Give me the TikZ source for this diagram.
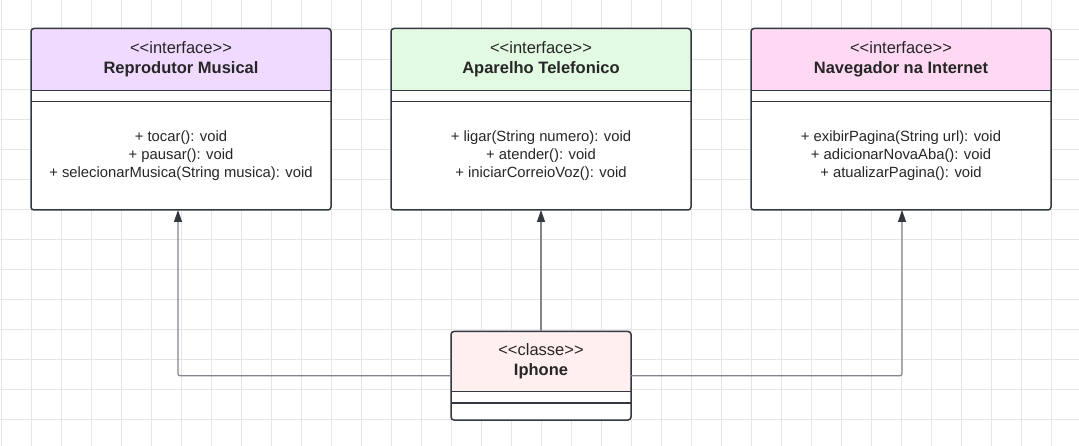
\documentclass[tikz,border=0pt]{standalone}
\usepackage{fontspec}
\setmainfont{Liberation Sans}
\usetikzlibrary{arrows.meta, positioning, fit}
\definecolor{uml_line}{RGB}{51, 56, 64}
\definecolor{uml_conn}{RGB}{128, 133, 140}
\definecolor{uml_grid}{RGB}{230, 230, 230}
\definecolor{uml_purple}{RGB}{240, 218, 255}
\definecolor{uml_green}{RGB}{226, 250, 226}
\definecolor{uml_pink}{RGB}{255, 217, 244}
\definecolor{uml_rose}{RGB}{255, 239, 238}
\newcommand{\stereo}[1]{<\kern0pt<#1>\kern0pt>}

\begin{document}
\begin{tikzpicture}[x=1pt, y=-1pt, text=black!85,
      hdr/.style={inner sep=0pt, outer sep=0pt, align=center,
                  minimum width=300pt, minimum height=62pt,
                  font=\fontsize{16.5}{20}\selectfont},
      cmp/.style={inner sep=0pt, outer sep=0pt,
                  minimum width=300pt, minimum height=11pt},
      ops/.style={inner sep=0pt, outer sep=0pt, align=center,
                  minimum width=300pt, minimum height=108.5pt,
                  font=\fontsize{14.8}{18}\selectfont},
      frame/.style={draw=uml_line, line width=1.5pt, rounded corners=3pt,
                    inner sep=0pt, outer sep=0pt},
      sep/.style={draw=uml_line, line width=1.5pt},
      conn/.style={draw=uml_conn, line width=1.2pt, rounded corners=2pt,
                   -{Triangle[length=12pt, width=8pt, color=uml_line]}},
      gridline/.style={draw=uml_grid, line width=1pt}]
      % Fundo quadriculado
      \fill[white] (0,0) rectangle (1079,446);
      \useasboundingbox (0,0) rectangle (1079,446);
      \foreach \gx in {0,...,35}
        \draw[gridline] (1.7+30*\gx,0) -- (1.7+30*\gx,446);
      \foreach \gy in {1,...,14}
        \draw[gridline] (0,-0.7+30*\gy) -- (1079,-0.7+30*\gy);
      % Reprodutor Musical
      \node[hdr, fill=uml_purple, anchor=north] (rep)
        at (181,28.5) {\stereo{interface}\\\textbf{Reprodutor Musical}};
      \node[cmp, fill=white, below=0pt of rep] (rep-a) {};
      \node[ops, fill=white, below=0pt of rep-a] (rep-o)
        {+ tocar(): void\\+ pausar(): void\\+ selecionarMusica(String musica): void};
      \node[frame, fit=(rep)(rep-o)] (rep-box) {};
      \draw[sep] (rep.south west) -- (rep.south east);
      \draw[sep] (rep-a.south west) -- (rep-a.south east);
      % Aparelho Telefonico
      \node[hdr, fill=uml_green, anchor=north] (apa)
        at (541,28.5) {\stereo{interface}\\\textbf{Aparelho Telefonico}};
      \node[cmp, fill=white, below=0pt of apa] (apa-a) {};
      \node[ops, fill=white, below=0pt of apa-a] (apa-o)
        {+ ligar(String numero): void\\+ atender(): void\\+ iniciarCorreioVoz(): void};
      \node[frame, fit=(apa)(apa-o)] (apa-box) {};
      \draw[sep] (apa.south west) -- (apa.south east);
      \draw[sep] (apa-a.south west) -- (apa-a.south east);
      % Navegador na Internet
      \node[hdr, fill=uml_pink, anchor=north] (nav)
        at (901,28.5) {\stereo{interface}\\\textbf{Navegador na Internet}};
      \node[cmp, fill=white, below=0pt of nav] (nav-a) {};
      \node[ops, fill=white, below=0pt of nav-a] (nav-o)
        {+ exibirPagina(String url): void\\+ adicionarNovaAba(): void\\+ atualizarPagina(): void};
      \node[frame, fit=(nav)(nav-o)] (nav-box) {};
      \draw[sep] (nav.south west) -- (nav.south east);
      \draw[sep] (nav-a.south west) -- (nav-a.south east);
      % Iphone
      \node[hdr, fill=uml_rose, anchor=north, minimum width=180pt,
            minimum height=60pt] (iph)
        at (541,331.5) {\stereo{classe}\\\textbf{Iphone}};
      \node[cmp, fill=white, minimum width=180pt, minimum height=11.5pt,
            below=0pt of iph] (iph-a) {};
      \node[cmp, fill=white, minimum width=180pt, minimum height=17pt,
            below=0pt of iph-a] (iph-o) {};
      \node[frame, fit=(iph)(iph-o)] (iph-box) {};
      \draw[sep] (iph.south west) -- (iph.south east);
      \draw[sep] (iph-a.south west) -- (iph-a.south east);
      % Realizacoes
      \draw[conn] (iph-box.west) -| ([xshift=-3pt]rep-box.south);
      \draw[conn] (iph-box.north) -- (apa-box.south);
      \draw[conn] (iph-box.east) -| ([xshift=1pt]nav-box.south);
    \end{tikzpicture}
\end{document}
